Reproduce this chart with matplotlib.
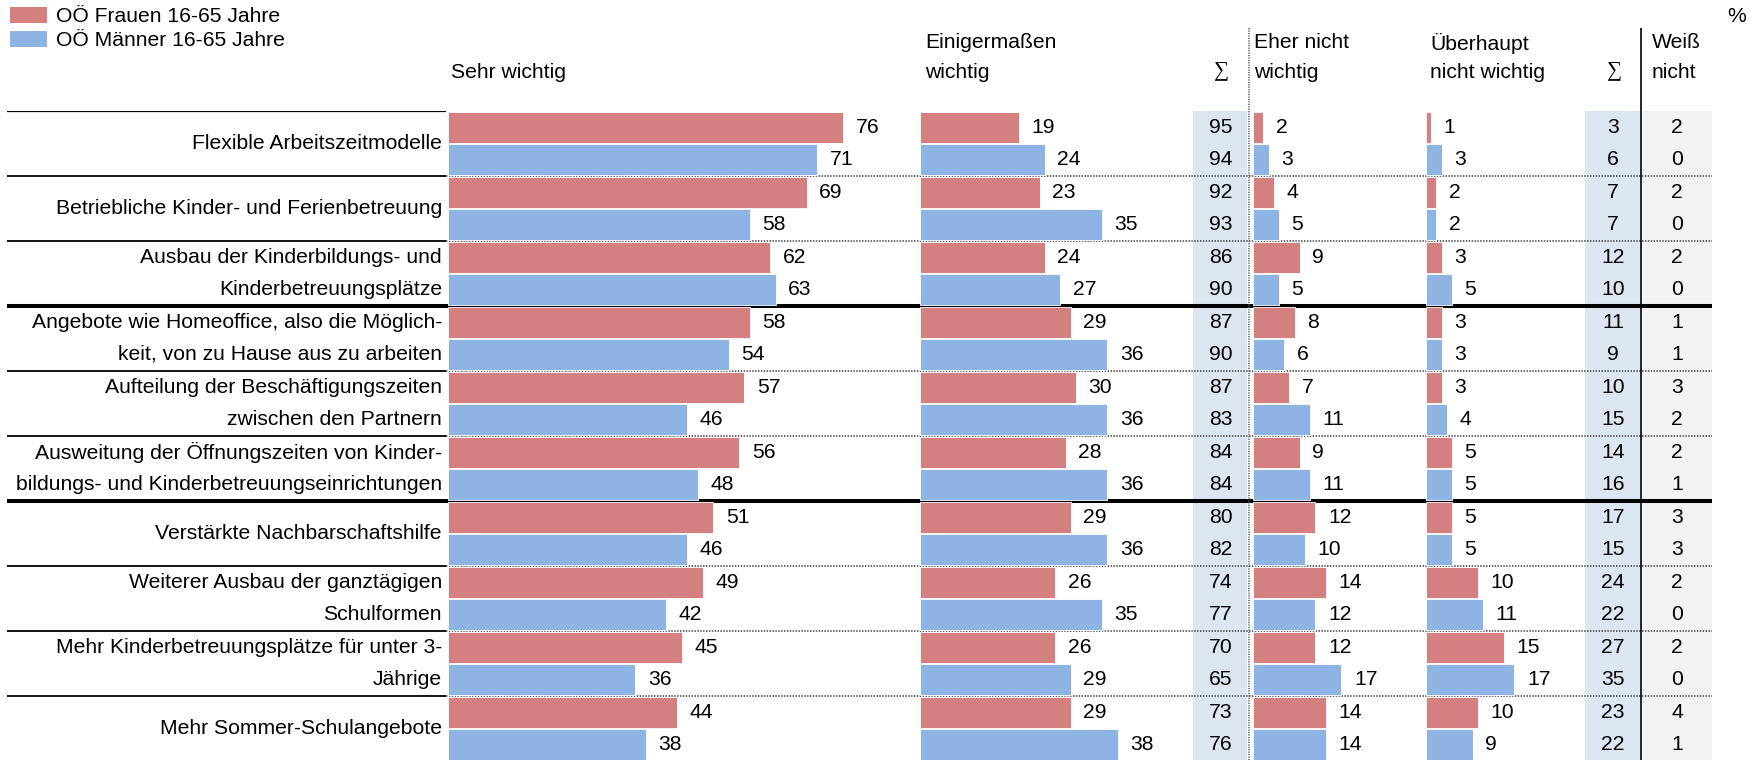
import matplotlib
matplotlib.use('Agg')
import matplotlib.pyplot as plt
from matplotlib.patches import Patch
import numpy as np

plt.rcParams['font.family'] = ['Liberation Sans', 'DejaVu Sans']
plt.rcParams['font.size'] = 15.2

# Daten
categories = [
    "Flexible Arbeitszeitmodelle",
    "Betriebliche Kinder- und Ferienbetreuung",
    "Ausbau der Kinderbildungs- und\nKinderbetreuungsplätze",
    "Angebote wie Homeoffice, also die Möglich-\nkeit, von zu Hause aus zu arbeiten",
    "Aufteilung der Beschäftigungszeiten\nzwischen den Partnern",
    "Ausweitung der Öffnungszeiten von Kinder-\nbildungs- und Kinderbetreuungseinrichtungen",
    "Verstärkte Nachbarschaftshilfe",
    "Weiterer Ausbau der ganztägigen\nSchulformen",
    "Mehr Kinderbetreuungsplätze für unter 3-\nJährige",
    "Mehr Sommer-Schulangebote",
]
series_labels = ["OÖ Frauen 16-65 Jahre", "OÖ Männer 16-65 Jahre"]

sehr_f = [76, 69, 62, 58, 57, 56, 51, 49, 45, 44]
sehr_m = [71, 58, 63, 54, 46, 48, 46, 42, 36, 38]
einig_f = [19, 23, 24, 29, 30, 28, 29, 26, 26, 29]
einig_m = [24, 35, 27, 36, 36, 36, 36, 35, 29, 38]
sum_wichtig_f = [95, 92, 86, 87, 87, 84, 80, 74, 70, 73]
sum_wichtig_m = [94, 93, 90, 90, 83, 84, 82, 77, 65, 76]
eher_nicht_f = [2, 4, 9, 8, 7, 9, 12, 14, 12, 14]
eher_nicht_m = [3, 5, 5, 6, 11, 11, 10, 12, 17, 14]
ueberhaupt_f = [1, 2, 3, 3, 3, 5, 5, 10, 15, 10]
ueberhaupt_m = [3, 2, 5, 3, 4, 5, 5, 11, 17, 9]
sum_nicht_f = [3, 7, 12, 11, 10, 14, 17, 24, 27, 23]
sum_nicht_m = [6, 7, 10, 9, 15, 16, 15, 22, 35, 22]
weiss_f = [2, 2, 2, 1, 3, 2, 3, 2, 2, 4]
weiss_m = [0, 0, 0, 1, 2, 1, 3, 0, 0, 1]

thick_after = [3, 6]  # Gruppentrennung

# Layout in Pixel
W, H = 1759, 760
ROW_TOP, ROW_H = 111, 65
PX_PER_PCT = 5.2
RIGHT_END = 1712
n = len(categories)

RED = '#D48080'
BLUE = '#8EB4E3'
SUM_BG = '#DCE6F1'
DK_BG = '#F2F2F2'
GRID = '#5a5a5a'
DOTS = (0, (0.8, 0.8))

fig = plt.figure(figsize=(W / 100, H / 100), dpi=100)


def fx(px):
    return px / W


def fy(py):
    return 1 - py / H


def row_axes(x0, x1):
    bottom = ROW_TOP + n * ROW_H
    ax = fig.add_axes([fx(x0), fy(bottom), (x1 - x0) / W, n * ROW_H / H])
    ax.set_ylim(n, 0)
    ax.axis('off')
    return ax


def px_to_row(py):
    return (py - ROW_TOP) / ROW_H


# Hintergrund, Linien, Beschriftung links
base = row_axes(0, W)
base.set_xlim(0, W)

base.axvspan(1193, 1247, color=SUM_BG, zorder=0, lw=0)
base.axvspan(1585, 1640, color=SUM_BG, zorder=0, lw=0)
base.axvspan(1642, RIGHT_END, color=DK_BG, zorder=0, lw=0)

base.hlines(0, 7, 446, color='black', lw=1.6, zorder=1)
for k in range(1, n):
    if k in thick_after:
        base.hlines(k, 7, RIGHT_END, color='black', lw=2.9, zorder=1)
    else:
        base.hlines(k, 7, 446, color='black', lw=1.3, zorder=1)
        base.hlines(k, 446, RIGHT_END, color=GRID, lw=1.3, linestyles=DOTS, zorder=1)

top = px_to_row(28)
base.vlines(1249, top, n, color=GRID, lw=1.1, linestyles=DOTS, clip_on=False, zorder=2)
base.vlines(1641, top, n, color='black', lw=1.2, clip_on=False, zorder=2)

for i, label in enumerate(categories):
    lines = label.split('\n')
    if len(lines) == 1:
        base.text(442, i + 0.5, lines[0], ha='right', va='center')
    else:
        base.text(442, i + 0.25, lines[0], ha='right', va='center')
        base.text(442, i + 0.745, lines[1], ha='right', va='center')

y_f = np.arange(n) + 0.25
y_m = np.arange(n) + 0.745

for xc, vals_f, vals_m in [(1221, sum_wichtig_f, sum_wichtig_m),
                           (1613, sum_nicht_f, sum_nicht_m),
                           (1677, weiss_f, weiss_m)]:
    for yy, v in zip(y_f, vals_f):
        base.text(xc, yy, str(v), ha='center', va='center', zorder=3)
    for yy, v in zip(y_m, vals_m):
        base.text(xc, yy, str(v), ha='center', va='center', zorder=3)


def bar_panel(x0, x1, vals_f, vals_m):
    ax = row_axes(x0, x1)
    ax.set_xlim(0, (x1 - x0) / PX_PER_PCT)
    ax.barh(y_f, vals_f, height=0.47, color=RED, edgecolor='white', lw=0.6)
    ax.barh(y_m, vals_m, height=0.47, color=BLUE, edgecolor='white', lw=0.6)
    for yy, v in list(zip(y_f, vals_f)) + list(zip(y_m, vals_m)):
        ax.annotate(str(v), (v, yy), xytext=(9, 0), textcoords='offset points',
                    ha='left', va='center')
    return ax


bar_panel(448, 919, sehr_f, sehr_m)
bar_panel(920, 1193, einig_f, einig_m)
bar_panel(1253, 1425, eher_nicht_f, eher_nicht_m)
bar_panel(1426, 1585, ueberhaupt_f, ueberhaupt_m)

# Spaltenköpfe
fig.text(fx(451), fy(72), "Sehr wichtig", ha='left', va='center')
fig.text(fx(925), fy(43), "Einigermaßen", ha='left', va='center')
fig.text(fx(925), fy(72), "wichtig", ha='left', va='center')
fig.text(fx(1254), fy(43), "Eher nicht", ha='left', va='center')
fig.text(fx(1254), fy(72), "wichtig", ha='left', va='center')
fig.text(fx(1430), fy(43), "Überhaupt", ha='left', va='center')
fig.text(fx(1430), fy(72), "nicht wichtig", ha='left', va='center')
fig.text(fx(1652), fy(43), "Weiß", ha='left', va='center')
fig.text(fx(1652), fy(72), "nicht", ha='left', va='center')
for xs in (1221, 1614):
    fig.text(fx(xs), fy(72), "\u2211", ha='center', va='center',
             family=['Liberation Serif', 'DejaVu Sans'])
fig.text(fx(1737), fy(17), "%", ha='center', va='center')

handles = [Patch(facecolor=RED, edgecolor='none'), Patch(facecolor=BLUE, edgecolor='none')]
fig.legend(handles, series_labels, loc='upper left', bbox_to_anchor=(fx(10), fy(7)),
           frameon=False, handlelength=1.75, handleheight=0.8, handletextpad=0.43,
           labelspacing=0.2, borderpad=0, borderaxespad=0)

fig.savefig('out.png', dpi=100)
